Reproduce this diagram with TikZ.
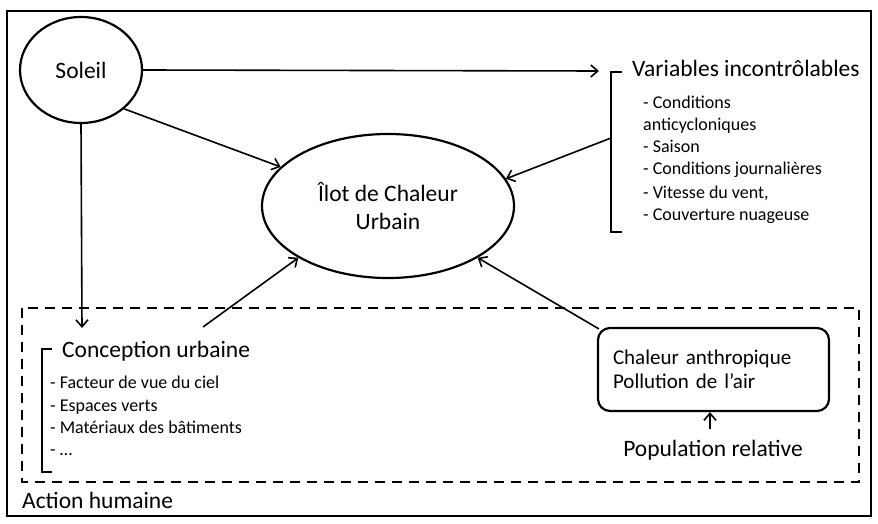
\documentclass[tikz,border=0pt]{standalone}
\usepackage{fontspec}
\setmainfont{Carlito}
\usetikzlibrary{shapes.geometric,arrows.meta}
\begin{document}
\begin{tikzpicture}[x=1pt,y=-1pt,
  big/.style={font=\fontsize{23.5}{28}\selectfont, inner sep=0pt},
  small/.style={font=\fontsize{18}{22}\selectfont, inner sep=0pt, anchor=base west},
  oval/.style={draw, ellipse, line width=2.2pt, inner sep=0pt, align=center, font=\fontsize{23.5}{28}\selectfont},
  conn/.style={line width=1.6pt, -{Straight Barb[length=7pt,width=12pt,line width=1.6pt]}},
  brk/.style={line width=1.8pt},
  grp/.style={line width=2.2pt, dash pattern=on 10pt off 7pt}]
\useasboundingbox (0,0) rectangle (878,524);
\draw[line width=1.8pt] (7,11) rectangle (871,516);
% ellipses
\node[oval, minimum width=122pt, minimum height=106pt] (sol) at (81,70) {Soleil};
\node[oval, minimum width=252pt, minimum height=144pt] (icu) at (388,206) {Îlot de Chaleur\\Urbain};
% variables
\node[big, anchor=base west] (var) at (632,77) {Variables incontrôlables};
\draw[brk] (622,72) -- (611,72) -- (611,232) -- (622,232);
\coordinate (varin) at (599,71);
\coordinate (varout) at (611,138);
\node[small] (v1) at (643,109) {- Conditions};
\node[small] (v2) at (643,131) {anticycloniques};
\node[small] (v3) at (643,153) {- Saison};
\node[small] (v4) at (643,175) {- Conditions journalières};
\node[small] (v5) at (643,198) {- Vitesse du vent,};
\node[small] (v6) at (643,220) {- Couverture nuageuse};
% group
\draw[grp] (22,308) rectangle (859,482);
\node[big, anchor=base west] (act) at (22,508) {Action humaine};
% conception
\node[big, anchor=base west] (con) at (62,357) {Conception urbaine};
\draw[brk] (52,349) -- (42,349) -- (42,472) -- (52,472);
\coordinate (conin) at (82,328);
\coordinate (conout) at (203,327);
\node[small] (c1) at (50,388) {- Facteur de vue du ciel};
\node[small] (c2) at (50,411) {- Espaces verts};
\node[small] (c3) at (50,433) {- Matériaux des bâtiments};
\node[small] (c4) at (50,455) {- …};
% chaleur box
\node[draw, line width=2.2pt, rounded corners=12pt, minimum width=231pt, minimum height=83pt,
  text width=201pt, align=left, inner sep=0pt, font=\fontsize{21}{24}\selectfont] (box) at (713.5,369.5)
  {Chaleur anthropique\\Pollution de l’air};
\node[big, anchor=base] (pop) at (713,456) {Population relative};
\coordinate (popin) at (710,429);
% connectors
\draw[conn] (sol.east) -- (varin);
\draw[conn] (sol.-42) -- (icu.160);
\draw[conn] (sol.south) -- (conin);
\draw[conn] (varout) -- (icu.13);
\draw[conn] (conout) -- (icu.210);
\draw[conn] (box.north west) ++(2,2) -- (icu.-30);
\draw[conn] (popin) -- (popin |- box.south);
\end{tikzpicture}
\end{document}
